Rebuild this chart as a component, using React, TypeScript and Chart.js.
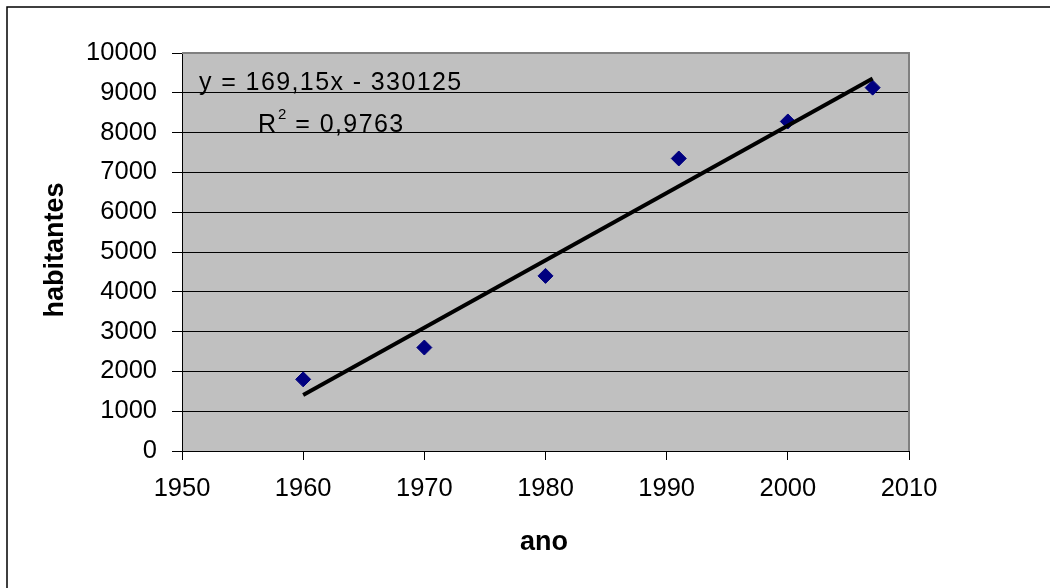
import React, { useEffect, useRef } from "react";
import { Chart, registerables } from "chart.js";

Chart.register(...registerables);

const years = [1960, 1970, 1980, 1991, 2000, 2007];
const habitantes = [1800, 2600, 4400, 7350, 8280, 9130];
const trendYears = [1960, 2007];
const trendValues = [1410, 9360];
const xTicks = [1950, 1960, 1970, 1980, 1990, 2000, 2010];
const yTicks = [0, 1000, 2000, 3000, 4000, 5000, 6000, 7000, 8000, 9000, 10000];
const equationText = "y = 169,15x - 330125";
const r2Label = "R";
const r2Sup = "2";
const r2Value = " = 0,9763";
const xTitle = "ano";
const yTitle = "habitantes";

const FONT = '"Liberation Sans", Arial, sans-serif';

const decorPlugin = {
  id: "decor",
  beforeDraw(chart: any) {
    const { ctx, chartArea } = chart;
    ctx.save();
    ctx.fillStyle = "#ffffff";
    ctx.fillRect(0, 0, chart.width, chart.height);
    ctx.strokeStyle = "#000000";
    ctx.lineWidth = 1.5;
    ctx.beginPath();
    ctx.moveTo(7, chart.height);
    ctx.lineTo(7, 7);
    ctx.lineTo(chart.width, 7);
    ctx.stroke();
    ctx.fillStyle = "#C0C0C0";
    ctx.fillRect(
      chartArea.left,
      chartArea.top,
      chartArea.right - chartArea.left,
      chartArea.bottom - chartArea.top
    );
    ctx.restore();
  },
  beforeDatasetsDraw(chart: any) {
    const { ctx, chartArea } = chart;
    ctx.save();
    ctx.strokeStyle = "#808080";
    ctx.lineWidth = 2;
    ctx.beginPath();
    ctx.moveTo(chartArea.left, chartArea.top);
    ctx.lineTo(chartArea.right, chartArea.top);
    ctx.lineTo(chartArea.right, chartArea.bottom);
    ctx.stroke();
    ctx.restore();
  },
  afterDraw(chart: any) {
    const { ctx } = chart;
    ctx.save();
    ctx.fillStyle = "#000000";
    ctx.textBaseline = "alphabetic";
    ctx.font = `25px ${FONT}`;
    (ctx as any).letterSpacing = "1.4px";
    ctx.textAlign = "left";
    ctx.fillText(equationText, 199, 90);
    ctx.fillText(r2Label, 258, 132);
    ctx.font = `15px ${FONT}`;
    (ctx as any).letterSpacing = "0px";
    ctx.fillText(r2Sup, 278, 119);
    ctx.font = `25px ${FONT}`;
    (ctx as any).letterSpacing = "1.4px";
    ctx.fillText(r2Value, 287, 132);
    (ctx as any).letterSpacing = "0px";
    ctx.font = `bold 27px ${FONT}`;
    ctx.textAlign = "center";
    ctx.fillText(xTitle, 544, 550);
    ctx.translate(63, 250);
    ctx.rotate(-Math.PI / 2);
    ctx.fillText(yTitle, 0, 0);
    ctx.restore();
  },
};

export default function App() {
  const canvasRef = useRef<HTMLCanvasElement | null>(null);

  useEffect(() => {
    if (!canvasRef.current) return;
    const chart = new Chart(canvasRef.current, {
      type: "scatter",
      data: {
        datasets: [
          {
            type: "line",
            label: "trend",
            data: trendYears.map((x, i) => ({ x, y: trendValues[i] })),
            borderColor: "#000000",
            borderWidth: 4,
            pointRadius: 0,
            showLine: true,
            fill: false,
            order: 0,
          } as any,
          {
            type: "scatter",
            label: "habitantes",
            data: years.map((x, i) => ({ x, y: habitantes[i] })),
            pointStyle: "rectRot",
            pointRadius: 7.5,
            pointBackgroundColor: "#000080",
            pointBorderColor: "#000080",
            pointBorderWidth: 1,
            order: 1,
          },
        ],
      },
      options: {
        animation: false,
        responsive: false,
        maintainAspectRatio: false,
        devicePixelRatio: 1,
        layout: { padding: { top: 53, left: 0, right: 141, bottom: 0 } },
        plugins: {
          legend: { display: false },
          tooltip: { enabled: false },
          title: { display: false },
        },
        scales: {
          x: {
            type: "linear",
            min: xTicks[0],
            max: xTicks[xTicks.length - 1],
            afterFit: (s: any) => {
              s.height = 137;
            },
            afterBuildTicks: (s: any) => {
              s.ticks = xTicks.map((v) => ({ value: v }));
            },
            ticks: {
              callback: (v: any) => String(v),
              color: "#000000",
              font: { family: FONT, size: 25.5 },
              padding: 14,
              maxRotation: 0,
            },
            grid: {
              drawOnChartArea: false,
              drawTicks: true,
              tickLength: 9,
              tickColor: "#000000",
              tickWidth: 1,
            },
            border: { display: true, color: "#000000", width: 1 },
          },
          y: {
            type: "linear",
            min: yTicks[0],
            max: yTicks[yTicks.length - 1],
            afterFit: (s: any) => {
              s.width = 182;
            },
            afterBuildTicks: (s: any) => {
              s.ticks = yTicks.map((v) => ({ value: v }));
            },
            ticks: {
              callback: (v: any) => String(v),
              color: "#000000",
              font: { family: FONT, size: 25.5 },
              padding: 15,
            },
            grid: {
              color: "#000000",
              lineWidth: 1,
              drawTicks: true,
              tickLength: 10,
              tickColor: "#000000",
            },
            border: { display: true, color: "#000000", width: 1 },
          },
        },
      },
      plugins: [decorPlugin],
    } as any);
    return () => chart.destroy();
  }, []);

  return (
    <div style={{ position: "absolute", left: 0, top: 0, width: 1050, height: 588 }}>
      <canvas ref={canvasRef} width={1050} height={588} style={{ width: 1050, height: 588, display: "block" }} />
    </div>
  );
}
